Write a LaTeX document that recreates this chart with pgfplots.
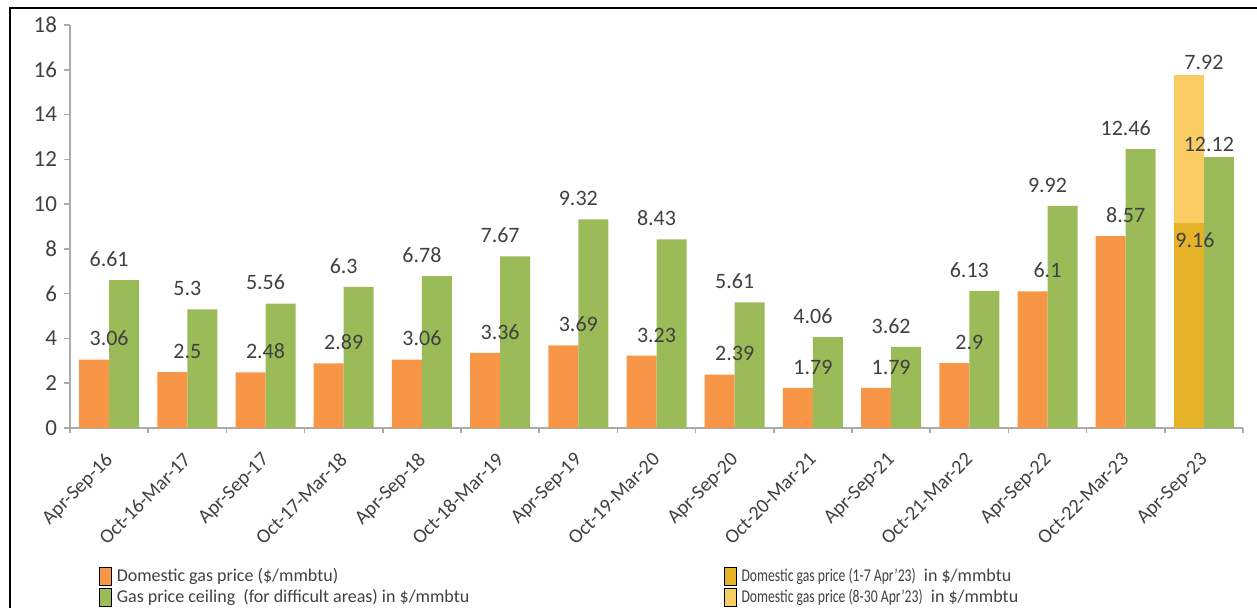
\documentclass[border=0pt]{standalone}
\usepackage{fontspec}
\setmainfont{Carlito}
\usepackage{pgfplots}
\pgfplotsset{compat=1.18}
\usepackage{graphicx}
\definecolor{cOrange}{RGB}{247,150,70}
\definecolor{cGreen}{RGB}{155,187,89}
\definecolor{cDark}{RGB}{230,178,40}
\definecolor{cLight}{RGB}{250,205,100}
\definecolor{cText}{RGB}{64,64,64}
\definecolor{cAxis}{RGB}{170,170,170}
\begin{document}
\begin{tikzpicture}
\useasboundingbox (0,0) rectangle (628.5pt,303.5pt);
\clip (0,0) rectangle (628.5pt,303.5pt);
\draw[line width=1.3pt] (5pt,-5pt) -- (5pt,299.5pt) -- (640pt,299.5pt);
\begin{axis}[
  at={(35pt,89.5pt)}, anchor=south west,
  scale only axis, width=586.5pt, height=201.5pt,
  xmin=-0.5, xmax=14.5, ymin=0, ymax=18,
  axis x line*=bottom, axis y line*=left,
  axis line style={cAxis, line width=0.8pt},
  tick align=outside,
  ytick={0,2,...,18},
  ytick style={cAxis, line width=0.8pt},
  major tick length=3pt,
  xtick={0,...,14},
  xticklabels={Apr-Sep-16,Oct-16-Mar-17,Apr-Sep-17,Oct-17-Mar-18,Apr-Sep-18,Oct-18-Mar-19,Apr-Sep-19,Oct-19-Mar-20,Apr-Sep-20,Oct-20-Mar-21,Apr-Sep-21,Oct-21-Mar-22,Apr-Sep-22,Oct-22-Mar-23,Apr-Sep-23},
  major x tick style={draw=none},
  minor xtick={-0.5,0.5,...,14.5},
  minor x tick style={cAxis, line width=0.8pt},
  minor tick length=2.5pt,
  xticklabel style={xshift=-2.5pt, yshift=-8.5pt, rotate=45, anchor=north east, font=\fontsize{10}{12}\selectfont, text=cText, inner sep=0pt},
  yticklabel style={font=\fontsize{11.5}{13}\selectfont, text=cText},
  /pgf/number format/assume math mode=true,
  legend columns=2,
  legend cell align=left,
  legend style={at={(0.0247,-0.3437)}, anchor=north west, draw=none, fill=none, inner sep=0pt, outer sep=0pt,
    font=\fontsize{9}{11}\selectfont, text=cText,
    nodes={inner sep=0pt, text height=7.5pt, text depth=3pt}},
  legend image code/.code={\fill[#1] (0pt,-4pt) rectangle (6pt,5pt);},
]
\addlegendimage{fill=cOrange}
\addlegendentry{\makebox[306pt][l]{\hspace{2.5pt}Domestic gas price (\$/mmbtu)}}
\addlegendimage{fill=cDark}
\addlegendentry{\hspace{2.5pt}\scalebox{0.76}[1]{Domestic gas price (1-7 Apr'23)}\ \ in \$/mmbtu}
\addlegendimage{fill=cGreen}
\addlegendentry{\makebox[306pt][l]{\hspace{2.5pt}Gas price ceiling\ \ (for difficult areas) in \$/mmbtu}}
\addlegendimage{fill=cLight}
\addlegendentry{\hspace{2.5pt}\scalebox{0.76}[1]{Domestic gas price (8-30 Apr'23)}\ \ in \$/mmbtu}

% Domestic gas price
\addplot[forget plot, ybar, bar width=15pt, bar shift=-7.5pt, fill=cOrange, draw=none,
  nodes near coords, nodes near coords style={anchor=south, inner sep=0pt, yshift=6.5pt, font=\fontsize{11}{13}\selectfont, text=cText}]
  coordinates {(0,3.06) (1,2.5) (2,2.48) (3,2.89) (4,3.06) (5,3.36) (6,3.69) (7,3.23) (8,2.39) (9,1.79) (10,1.79) (11,2.9) (12,6.1) (13,8.57)};
% Gas price ceiling
\addplot[forget plot, ybar, bar width=15pt, bar shift=7.5pt, fill=cGreen, draw=none,
  nodes near coords, nodes near coords style={anchor=south, inner sep=0pt, yshift=6.5pt, font=\fontsize{11}{13}\selectfont, text=cText}]
  coordinates {(0,6.61) (1,5.3) (2,5.56) (3,6.3) (4,6.78) (5,7.67) (6,9.32) (7,8.43) (8,5.61) (9,4.06) (10,3.62) (11,6.13) (12,9.92) (13,12.46)};
\addplot[forget plot, ybar, bar width=15pt, bar shift=7.5pt, fill=cGreen, draw=none,
  nodes near coords, nodes near coords style={anchor=south, inner sep=0pt, yshift=2.5pt, xshift=2.5pt, font=\fontsize{11}{13}\selectfont, text=cText}]
  coordinates {(14,12.12)};
% 8-30 Apr'23
\addplot[forget plot, ybar, bar width=15pt, bar shift=-7.5pt, fill=cLight, draw=none,
  nodes near coords={7.92}, nodes near coords style={anchor=south, inner sep=0pt, yshift=2.5pt, font=\fontsize{11}{13}\selectfont, text=cText}]
  coordinates {(14,15.77)};
% 1-7 Apr'23
\addplot[forget plot, ybar, bar width=15pt, bar shift=-7.5pt, fill=cDark, draw=none,
  nodes near coords, nodes near coords style={anchor=north, inner sep=0pt, yshift=-4.5pt, xshift=-4.5pt, font=\fontsize{11}{13}\selectfont, text=cText}]
  coordinates {(14,9.16)};
\end{axis}
\end{tikzpicture}
\end{document}
